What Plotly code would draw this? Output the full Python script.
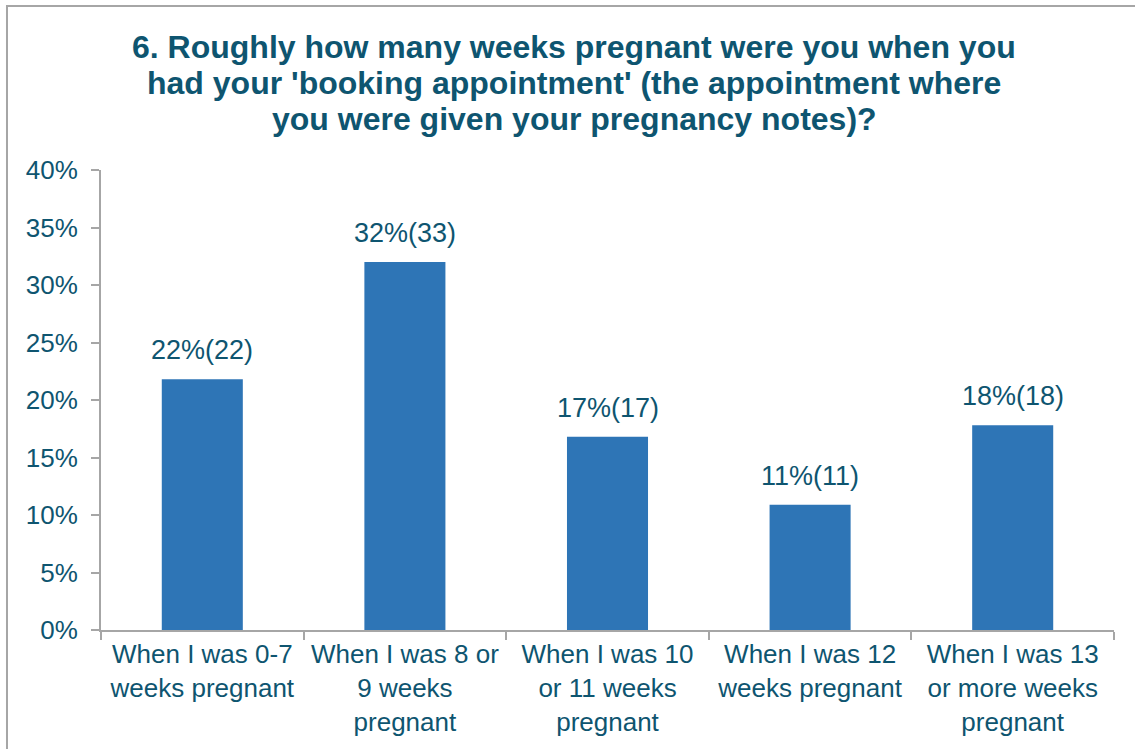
import plotly.graph_objects as go

categories = [
    "When I was 0-7<br>weeks pregnant",
    "When I was 8 or<br>9 weeks<br>pregnant",
    "When I was 10<br>or 11 weeks<br>pregnant",
    "When I was 12<br>weeks pregnant",
    "When I was 13<br>or more weeks<br>pregnant",
]
percent = [21.8, 32.0, 16.8, 10.9, 17.8]
counts = [22, 33, 17, 11, 18]
label_pct = [22, 32, 17, 11, 18]
yticks = [0, 5, 10, 15, 20, 25, 30, 35, 40]
title_lines = [
    "6. Roughly how many weeks pregnant were you when you",
    "had your 'booking appointment' (the appointment where",
    "you were given your pregnancy notes)?",
]

TEXT = "#0E5570"
BAR = "#2E75B6"
AXIS = "#A6A6A6"
FONT = "Liberation Sans, Arial, sans-serif"

labels = [f"{p}%({c})" for p, c in zip(label_pct, counts)]

fig = go.Figure(go.Bar(
    x=categories, y=percent, width=0.4,
    marker=dict(color=BAR, line=dict(width=0)),
))

for cat, val, lab in zip(categories, percent, labels):
    fig.add_annotation(x=cat, y=val, text=lab, showarrow=False,
                       xanchor="center", yanchor="bottom", yshift=12,
                       font=dict(family=FONT, size=27, color=TEXT))

# title lines: centers at y=47, 83, 119 px; plot area top 170, height 460
for i, line in enumerate(title_lines):
    ypx = 47 + 36 * i
    fig.add_annotation(xref="paper", yref="paper",
                       x=(574 - 101) / 1013, y=(630 - ypx) / 460,
                       text=f"<b>{line}</b>", showarrow=False,
                       xanchor="center", yanchor="middle",
                       font=dict(family=FONT, size=32, color=TEXT))

fig.update_layout(
    width=1135, height=749,
    margin=dict(l=101, r=21, t=170, b=119),
    paper_bgcolor="white", plot_bgcolor="white",
    showlegend=False,
    font=dict(family=FONT, color=TEXT),
    bargap=0.6,
)
fig.update_xaxes(
    showline=True, linecolor=AXIS, linewidth=2,
    ticks="outside", tickson="boundaries", ticklen=8, tickcolor=AXIS, tickwidth=2,
    tickfont=dict(family=FONT, size=26, color=TEXT),
    showgrid=False,
)
fig.update_yaxes(
    range=[0, 40], tickvals=yticks, ticktext=[f"{v}%" for v in yticks],
    showline=True, linecolor=AXIS, linewidth=2,
    ticks="outside", ticklen=8, tickcolor=AXIS, tickwidth=2,
    ticklabelstandoff=8,
    tickfont=dict(family=FONT, size=26, color=TEXT),
    showgrid=False, zeroline=False,
)
fig.add_shape(type="rect", xref="paper", yref="paper",
              x0=-0.0928, x1=1.2, y0=-0.5, y1=1.3565,
              line=dict(color="#A6A6A6", width=2), fillcolor="rgba(0,0,0,0)", layer="below")

fig.write_html("out.html")
